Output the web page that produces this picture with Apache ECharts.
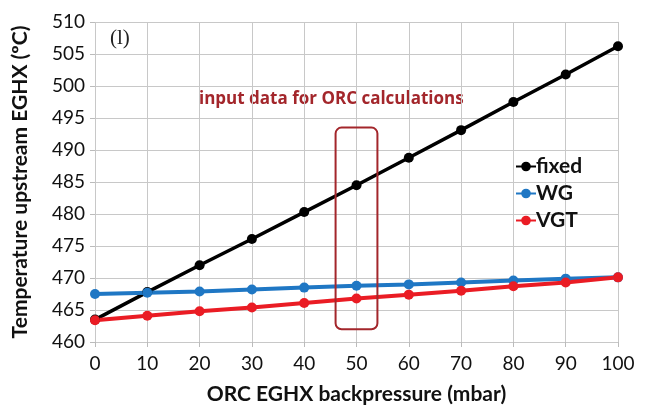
<!DOCTYPE html>
<html><head><meta charset="utf-8">
<script src="https://cdn.jsdelivr.net/npm/echarts@6/dist/echarts.min.js"></script>
<style>html,body{margin:0;padding:0;background:#fff}#c{width:649px;height:416px}</style>
</head><body><div id="c"></div>
<script>
const categories = [0,10,20,30,40,50,60,70,80,90,100];
const fixedVals = [463.5,467.8,472.0,476.1,480.3,484.5,488.8,493.1,497.5,501.8,506.2];
const wgVals = [467.5,467.7,467.9,468.2,468.5,468.8,469.0,469.3,469.6,469.9,470.1];
const vgtVals = [463.4,464.1,464.8,465.4,466.1,466.8,467.4,468.0,468.7,469.3,470.1];
const boxRange = [[46,493.5],[54,462]];
const annotText = 'input data for ORC calculations';
const panelLabel = '(l)';

const chart = echarts.init(document.getElementById('c'));
const font = 'Lato';
function mk(name, vals, color, width){
  return {name, type:'line', data: categories.map((x,i)=>[x,vals[i]]),
    symbol:'circle', symbolSize:10, color, lineStyle:{width, color},
    itemStyle:{color}, z:3};
}
chart.setOption({
  animation:false,
  grid:{left:95,right:31,top:22,bottom:74,containLabel:false},
  xAxis:{type:'value',min:0,max:100,interval:10,
    name:'ORC EGHX backpressure (mbar)',nameLocation:'middle',nameGap:42,
    nameTextStyle:{fontFamily:font,fontWeight:'bold',fontSize:21,color:'#111'},
    axisLine:{show:false},axisTick:{show:true,length:5,lineStyle:{color:'#bbb'}},
    axisLabel:{fontFamily:font,fontSize:19,color:'#111',margin:12},
    splitLine:{show:true,lineStyle:{color:'#c8c8c8',width:1}}},
  yAxis:{type:'value',min:460,max:510,interval:5,
    name:'Temperature upstream EGHX (ºC)',nameLocation:'middle',nameGap:64,
    nameTextStyle:{fontFamily:font,fontWeight:'bold',fontSize:21,color:'#111'},
    axisLine:{show:false},axisTick:{show:true,length:5,lineStyle:{color:'#bbb'}},
    axisLabel:{fontFamily:font,fontSize:19,color:'#111',margin:10},
    splitLine:{show:true,lineStyle:{color:'#c8c8c8',width:1}}},
  legend:{orient:'vertical',left:510,top:151,itemGap:6,itemWidth:20,itemHeight:12,
    textStyle:{fontFamily:font,fontSize:21,fontWeight:'bold',color:'#111',padding:[0,0,0,-5]},
    data:['fixed','WG','VGT']},
  graphic:[
    {type:'text',left:110,top:28,style:{text:panelLabel,font:'21px "Liberation Serif"',fill:'#222'}},
    {type:'text',left:199,top:91,style:{text:annotText,font:'bold 17px "Open Sans"',fill:'#a3262b'}}
  ],
  series:[
    mk('fixed',fixedVals,'#000000',3.5),
    mk('WG',wgVals,'#1f77c4',4),
    mk('VGT',vgtVals,'#ea1c24',4),
    {type:'custom',name:'box',silent:true,z:4,
      data:[[boxRange[0][0],boxRange[0][1],boxRange[1][0],boxRange[1][1]]],
      renderItem:function(params,api){
        const p1=api.coord([api.value(0),api.value(1)]);
        const p2=api.coord([api.value(2),api.value(3)]);
        return {type:'rect',shape:{x:p1[0],y:p1[1],width:p2[0]-p1[0],height:p2[1]-p1[1],r:6},
          style:{fill:'none',stroke:'#a3262b',lineWidth:2}};
      }}
  ]
});
</script></body></html>
